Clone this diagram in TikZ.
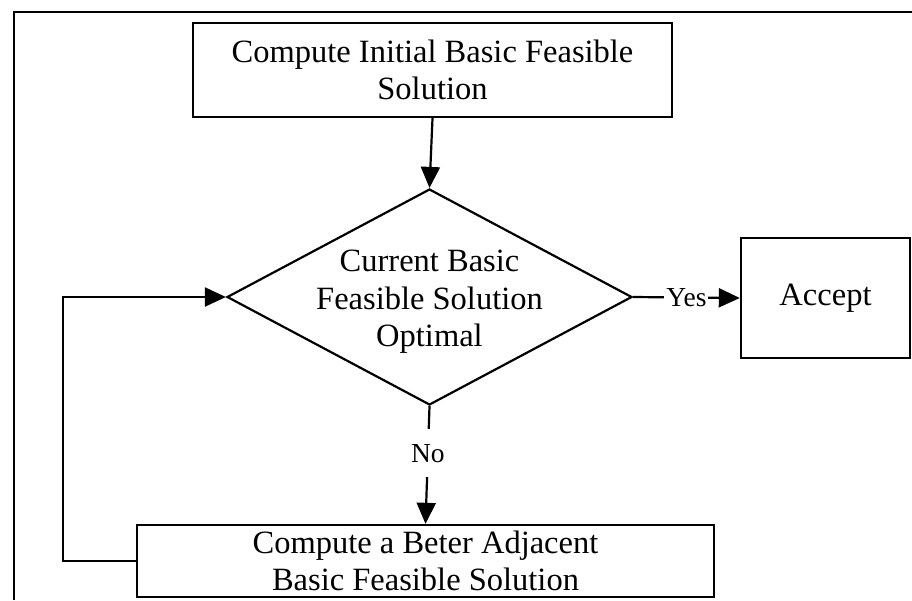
\documentclass[tikz,border=0pt]{standalone}
\usepackage{fontspec}
\setmainfont{Liberation Serif}
\usetikzlibrary{arrows.meta,shapes.geometric}
\begin{document}
\begin{tikzpicture}[x=1pt,y=-1pt,
  box/.style={draw, line width=2.4pt, inner sep=0pt, align=center, font=\fontsize{32.5}{36.5}\selectfont},
  dshape/.style={diamond, draw, line width=2.2pt, inner sep=0pt, minimum width=405pt, minimum height=216pt},
  dtext/.style={align=center, inner sep=0pt, font=\fontsize{32.5}{37.5}\selectfont},
  conn/.style={line width=2.2pt, -{Triangle[length=21pt,width=19pt]}},
  ylbl/.style={font=\fontsize{27.5}{30}\selectfont, fill=white, inner xsep=2pt, inner ysep=2pt},
  nlbl/.style={font=\fontsize{27.5}{30}\selectfont, fill=white, inner xsep=2pt, inner ysep=15pt},
  frame/.style={line width=2.5pt}
]
\useasboundingbox (0,0) rectangle (912,600);
\coordinate (fa) at (14,600);
\coordinate (fb) at (14,12);
\coordinate (fc) at (912,12);
\draw[frame] (fa) -- (fb) -- (fc);

\node[box, minimum width=479pt, minimum height=94pt] (init) at (432.5,70)
  {Compute Initial Basic Feasible\\Solution};
\node[dshape] (dec) at (429.5,297) {};
\node[dtext] (dect) at (429.5,302) {Current Basic\\Feasible Solution\\Optimal};
\node[box, minimum width=169pt, minimum height=120pt] (acc) at (825.5,298) {\raisebox{-4pt}{Accept}};
\node[box, minimum width=577pt, minimum height=72pt] (bet) at (425.5,561)
  {Compute a Beter Adjacent\\Basic Feasible Solution};

\coordinate (lp) at (63,430);

\draw[conn] (init.south) -- (dec.north);
\draw[conn] (dec.east) -- node[ylbl] {Yes} (acc.west);
\draw[conn] (dec.south) -- node[nlbl, pos=0.4] {No} (bet.north);
\draw[conn] (bet.west) -| (lp) |- (dec.west);
\end{tikzpicture}
\end{document}
